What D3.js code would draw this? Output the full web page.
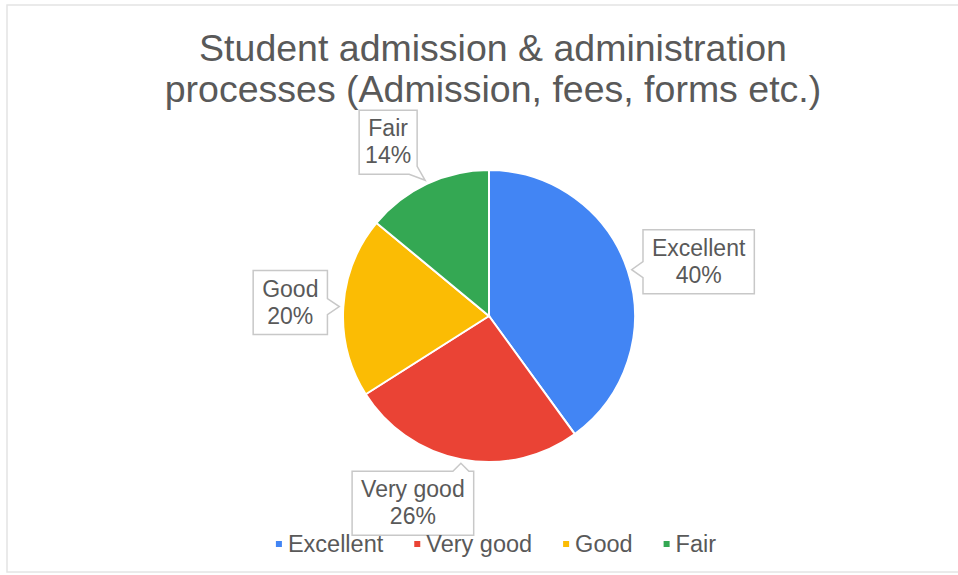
<!DOCTYPE html>
<html>
<head>
<meta charset="utf-8">
<script src="https://cdn.jsdelivr.net/npm/d3@7"></script>
<style>
  body { margin:0; background:#fff; }
  svg text { font-family: "Liberation Sans", Arial, sans-serif; }
</style>
</head>
<body>
<svg id="chart" width="958" height="575"></svg>
<script>
// chart data
const categories = ["Excellent", "Very good", "Good", "Fair"];
const percents = [40, 26, 20, 14];
const colors = ["#4285F4", "#EA4335", "#FBBC04", "#34A853"];
const titleLines = ["Student admission & administration", "processes (Admission, fees, forms etc.)"];

const WIDTH = 958, HEIGHT = 575;
const CX = 489, CY = 316, R = 146;
// where each callout box sits, relative to the slice's edge point
const LABEL_OFFSET = [[67, -8], [-48, 40], [-49, -4], [-37, -38]];

let svg = d3.select("#chart");

// faint frame of the screenshot
svg.append("rect")
   .attr("x", 7).attr("y", 5)
   .attr("width", WIDTH).attr("height", 567)
   .attr("fill", "none")
   .attr("stroke", "#e4e4e4")
   .attr("stroke-width", 1.5);

// title
svg.append("g")
   .selectAll("text")
   .data(titleLines)
   .join("text")
   .attr("x", 493)
   .attr("y", (d, i) => 61 + i * 41)
   .attr("text-anchor", "middle")
   .attr("font-size", 37.5)
   .attr("fill", "#595959")
   .text(d => d);

let color = d3.scaleOrdinal().domain(categories).range(colors);
let pie = d3.pie().sort(null).value(d => d.value);
let arcs = pie(categories.map((c, i) => ({name: c, value: percents[i]})));
let arc = d3.arc().innerRadius(0).outerRadius(R);

let pieG = svg.append("g").attr("transform", "translate(" + CX + "," + CY + ")");
pieG.selectAll("path")
    .data(arcs)
    .join("path")
    .attr("d", arc)
    .attr("fill", d => color(d.data.name))
    .attr("stroke", "#fff")
    .attr("stroke-width", 2);

// callout path: rectangle with a small wedge pointing at the tip
function callout(x0, y0, x1, y1, tx, ty) {
  const w = 8;
  let pts;
  if (tx > x1 && ty > y1) {
    pts = [[x0,y0],[x1,y0],[x1,y1-w],[tx,ty],[x1-w,y1],[x0,y1]];
  } else if (tx < x0) {
    let cy = Math.max(y0 + w, Math.min(y1 - w, ty));
    pts = [[x0,y0],[x1,y0],[x1,y1],[x0,y1],[x0,cy+w],[tx,ty],[x0,cy-w]];
  } else if (tx > x1) {
    let cy = Math.max(y0 + w, Math.min(y1 - w, ty));
    pts = [[x0,y0],[x1,y0],[x1,cy-w],[tx,ty],[x1,cy+w],[x1,y1],[x0,y1]];
  } else if (ty < y0) {
    let cx = Math.max(x0 + w, Math.min(x1 - w, tx));
    pts = [[x0,y0],[cx-w,y0],[tx,ty],[cx+w,y0],[x1,y0],[x1,y1],[x0,y1]];
  } else {
    let cx = Math.max(x0 + w, Math.min(x1 - w, tx));
    pts = [[x0,y0],[x1,y0],[x1,y1],[cx+w,y1],[tx,ty],[cx-w,y1],[x0,y1]];
  }
  return d3.line()(pts) + "Z";
}

let labelG = svg.append("g");
arcs.forEach(function(d, i) {
  let mid = (d.startAngle + d.endAngle) / 2;
  let ex = CX + (R + 4) * Math.sin(mid);
  let ey = CY - (R + 4) * Math.cos(mid);
  let bx = ex + LABEL_OFFSET[i][0];
  let by = ey + LABEL_OFFSET[i][1];

  let g = labelG.append("g");
  let box = g.append("path");
  let name = g.append("text")
              .attr("x", bx).attr("y", by - 6)
              .attr("text-anchor", "middle")
              .attr("font-size", 23)
              .attr("fill", "#595959")
              .text(d.data.name);
  g.append("text")
   .attr("x", bx).attr("y", by + 21)
   .attr("text-anchor", "middle")
   .attr("font-size", 23)
   .attr("fill", "#595959")
   .text(d.data.value + "%");

  let tw = name.node().getComputedTextLength();
  let hw = Math.max(tw, 40) / 2 + 9, hh = 32;
  box.attr("d", callout(bx - hw, by - hh, bx + hw, by + hh, ex, ey))
     .attr("fill", "#fff")
     .attr("stroke", "#c8c8c8")
     .attr("stroke-width", 1.5);
});

// legend
let legend = svg.append("g");
let lx = 0;
categories.forEach(function(c, i) {
  let it = legend.append("g");
  it.append("rect")
    .attr("x", 0).attr("y", -3)
    .attr("width", 6).attr("height", 6)
    .attr("fill", color(c));
  let tx = it.append("text")
    .attr("x", 12).attr("y", 8)
    .attr("font-size", 23.5)
    .attr("fill", "#595959")
    .text(c);
  it.attr("transform", "translate(" + lx + ",0)");
  lx += 12 + tx.node().getComputedTextLength() + 31;
});
let legendW = lx - 31;
legend.attr("transform", "translate(" + (496 - legendW / 2) + ",544)");
</script>
</body>
</html>
